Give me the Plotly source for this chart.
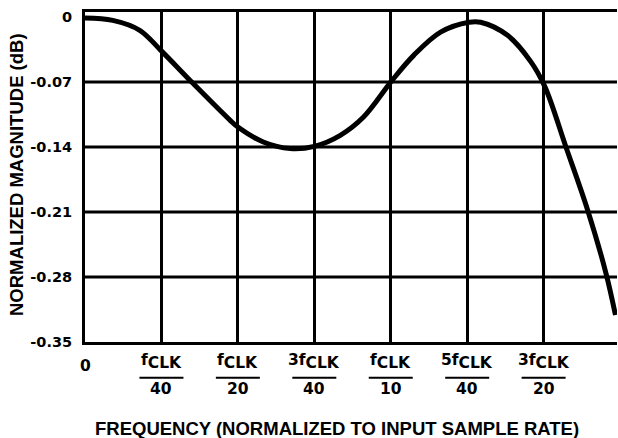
import plotly.graph_objects as go

# ---- data ----
freq = [0, 0.0091, 0.0179, 0.0248, 0.0354, 0.0474, 0.05, 0.0583, 0.0671, 0.075,
        0.0835, 0.0911, 0.1005, 0.1075, 0.1163, 0.1256, 0.1294, 0.1382, 0.1458,
        0.1504, 0.1573, 0.1644, 0.1704, 0.1735]
mag_db = [-0.001, -0.0036, -0.0143, -0.0359, -0.0717, -0.111, -0.1185, -0.1346,
          -0.1417, -0.1393, -0.1274, -0.1077, -0.068, -0.0413, -0.0162, -0.0056,
          -0.0056, -0.0197, -0.048, -0.075, -0.14, -0.208, -0.276, -0.321]

x_ticks = [0.025, 0.05, 0.075, 0.1, 0.125, 0.15]
x_num = ["f", "f", "3f", "f", "5f", "3f"]
x_den = ["40", "20", "40", "10", "40", "20"]
y_ticks = [0, -0.07, -0.14, -0.21, -0.28, -0.35]
y_ticktext = ["0", "-0.07", "-0.14", "-0.21", "-0.28", "-0.35"]
y_grid = [-0.07, -0.14, -0.21, -0.28]

x_title = "FREQUENCY (NORMALIZED TO INPUT SAMPLE RATE)"
y_title = "NORMALIZED MAGNITUDE (dB)"

TICK_FONT = dict(family="DejaVu Sans", size=14.5, color="black", weight="bold")
FRAC_FONT = dict(family="DejaVu Sans", size=15.5, color="black", weight="bold")
TITLE_FONT = dict(family="Liberation Sans, Arial", size=18.5, color="black", weight="bold")

fig = go.Figure()
fig.add_trace(go.Scatter(x=freq, y=mag_db, mode="lines",
                         line=dict(color="black", width=5, shape="spline", smoothing=1.0),
                         hoverinfo="skip", showlegend=False))

for v in y_grid:
    fig.add_hline(y=v, line=dict(color="black", width=3), layer="below")

fig.update_xaxes(range=[0, 0.174], tickvals=[0] + x_ticks, showticklabels=False,
                 showgrid=True, gridcolor="black", gridwidth=3,
                 showline=True, linecolor="black", linewidth=3, mirror=True,
                 zeroline=False, ticks="")
fig.update_yaxes(range=[-0.35, 0.0054], tickvals=y_ticks, ticktext=y_ticktext,
                 tickfont=TICK_FONT, showgrid=False, ticklabelstandoff=7,
                 showline=True, linecolor="black", linewidth=3,
                 zeroline=False, ticks="")

annotations = []
H = 330.0
BOT = 342.0
def py(p):
    return (BOT - p) / H

annotations.append(dict(x=0, xref="x", y=py(366), yref="paper", text="0",
                        showarrow=False, font=FRAC_FONT, xanchor="center", yanchor="middle"))
for xv, num, den in zip(x_ticks, x_num, x_den):
    annotations.append(dict(x=xv, xref="x", y=py(361), yref="paper",
                            text=num + '<sub><span style="font-size:15.5px">CLK</span></sub>',
                            showarrow=False, font=FRAC_FONT, xanchor="center", yanchor="middle"))
    annotations.append(dict(x=xv, xref="x", y=py(389), yref="paper", text=den,
                            showarrow=False, font=FRAC_FONT, xanchor="center", yanchor="middle"))
    fig.add_shape(type="line", xref="x", xsizemode="pixel", xanchor=xv, x0=-22, x1=22,
                  yref="paper", y0=py(377.7), y1=py(377.7),
                  line=dict(color="black", width=2))

annotations.append(dict(x=(336.5 - 85) / 532, xref="paper", y=py(428), yref="paper",
                        text=x_title, showarrow=False, font=TITLE_FONT,
                        xanchor="center", yanchor="middle"))
annotations.append(dict(x=(16 - 85) / 532, xref="paper", y=py(175), yref="paper",
                        text=y_title, showarrow=False, font=TITLE_FONT, textangle=-90,
                        xanchor="center", yanchor="middle"))

fig.update_layout(width=618, height=438, margin=dict(l=85, r=1, t=12, b=96),
                  paper_bgcolor="white", plot_bgcolor="white",
                  annotations=annotations, showlegend=False)

fig.write_html("out.html", config={"displayModeBar": False},
               post_script="document.body.style.margin='0';document.body.style.padding='0';")
